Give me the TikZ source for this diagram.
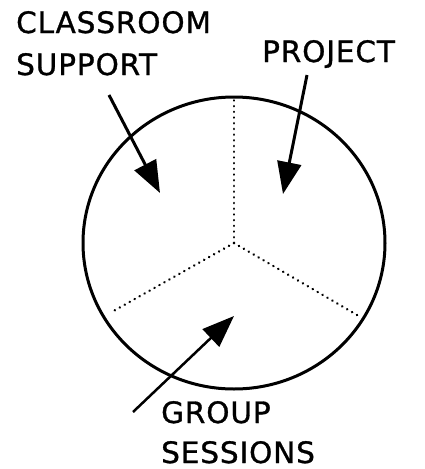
\documentclass[tikz,border=0pt]{standalone}
\usepackage{fontspec}
\setmainfont[FakeBold=1,LetterSpace=3]{DejaVu Sans}
\usetikzlibrary{arrows.meta}
\begin{document}
\begin{tikzpicture}[x=1pt,y=-1pt,
  lbl/.style={anchor=base west,inner sep=0pt,font=\fontsize{29.5}{31}\selectfont},
  pointer/.style={line width=3pt,-{Triangle[length=32pt,width=24pt]}},
  divider/.style={line width=2.6pt,dash pattern=on 0.1pt off 5.6pt,line cap=round}]
\useasboundingbox (0,0) rectangle (425,469);
\coordinate (c) at (234,243);
\draw[line width=3pt] (c) ellipse [x radius=151, y radius=146];
\coordinate (top) at (234,97);
\coordinate (ll) at (110,313);
\coordinate (lr) at (357,315);
\draw[divider] (c) -- (top);
\draw[divider] (c) -- (ll);
\draw[divider] (c) -- (lr);
\node[lbl] (cl) at (16,33) {CLASSROOM};
\node[lbl] (su) at (16,75) {SUPPORT};
\node[lbl] (pr) at (262,62) {PROJECT};
\node[lbl] (gr) at (161,423) {GROUP};
\node[lbl] (se) at (161,463) {SESSIONS};
\coordinate (a1s) at (109,95);
\coordinate (a1e) at (160,193);
\coordinate (a2s) at (307,75);
\coordinate (a2e) at (283,194);
\coordinate (a3s) at (133,412);
\coordinate (a3e) at (234,316);
\draw[pointer] (a1s) -- (a1e);
\draw[pointer] (a2s) -- (a2e);
\draw[pointer,line width=2.5pt] (a3s) -- (a3e);
\end{tikzpicture}
\end{document}
